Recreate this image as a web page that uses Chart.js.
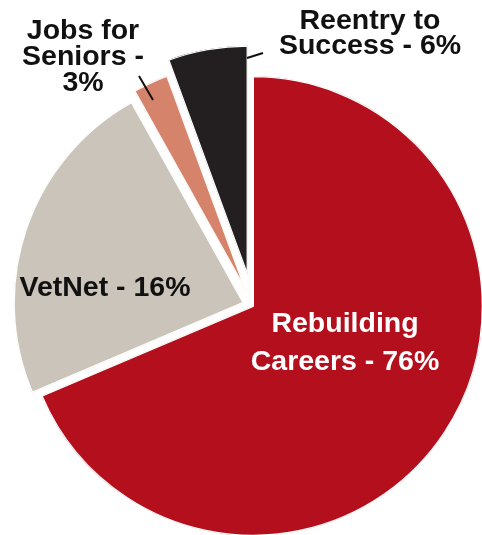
<!DOCTYPE html>
<html>
<head>
<meta charset="utf-8">
<script src="https://cdn.jsdelivr.net/npm/chart.js@4/dist/chart.umd.min.js"></script>
<style>
  html, body { margin: 0; padding: 0; background: #fff; }
  #wrap { width: 482px; height: 535px; position: relative; }
</style>
</head>
<body>
<div id="wrap"><canvas id="pie"></canvas></div>
<script>
// === DATA ===
// shares as drawn in the picture (percent of the full circle)
var programs = ['Rebuilding Careers', 'VetNet', 'Jobs for Seniors', 'Reentry to Success'];
var shares = [68.6, 23.3, 2.5, 5.6];
// text printed on each slice, line by line
var labelLines = [
  ['Rebuilding', 'Careers - 76%'],
  ['VetNet - 16%'],
  ['Jobs for', 'Seniors -', '3%'],
  ['Reentry to', 'Success - 6%']
];

// === STYLE ===
var sliceColors = ['#B40F1D', '#CAC4BA', '#D6836B', '#231F20'];
// how far each slice is pulled out of the pie (px, along its mid angle)
var explode = [0, 10, 16, 31];
var labelColors = ['#ffffff', '#111111', '#111111', '#111111'];
// label anchor relative to pie centre: dx, dy (first baseline), line height
var labelPlace = [
  { dx: 92, dy: 26, lh: 38 },
  { dx: -148, dy: -10, lh: 0 },
  { dx: -170, dy: -267, lh: 26 },
  { dx: 117, dy: -277, lh: 24.5 }
];
// leader lines relative to pie centre (null = none)
var leaders = [
  null,
  null,
  [-114, -230, -100, -206],
  [-6, -248, 10, -253]
];

// Draw the library's arcs ourselves so each one can be shifted by a plain pixel amount
var explodedArcs = {
  id: 'explodedArcs',
  beforeDatasetDraw: function(chart, args) {
    var ctx = chart.ctx;
    args.meta.data.forEach(function(arc, i) {
      var mid = (arc.startAngle + arc.endAngle) / 2;
      ctx.save();
      ctx.translate(Math.cos(mid) * explode[i], Math.sin(mid) * explode[i]);
      arc.draw(ctx);
      ctx.restore();
    });
    return false;
  }
};

var pieLabels = {
  id: 'pieLabels',
  afterDatasetsDraw: function(chart) {
    var ctx = chart.ctx;
    var arc0 = chart.getDatasetMeta(0).data[0];
    var cx = arc0.x, cy = arc0.y;
    ctx.save();
    ctx.font = 'bold 28.5px "Liberation Sans", Arial, sans-serif';
    ctx.textAlign = 'center';
    ctx.textBaseline = 'alphabetic';
    labelLines.forEach(function(lines, i) {
      var p = labelPlace[i];
      ctx.fillStyle = labelColors[i];
      lines.forEach(function(t, j) {
        ctx.fillText(t, cx + p.dx, cy + p.dy + j * p.lh);
      });
      var l = leaders[i];
      if (l) {
        ctx.strokeStyle = '#111';
        ctx.lineWidth = 2;
        ctx.beginPath();
        ctx.moveTo(cx + l[0], cy + l[1]);
        ctx.lineTo(cx + l[2], cy + l[3]);
        ctx.stroke();
      }
    });
    ctx.restore();
  }
};

var ctx = document.getElementById('pie').getContext('2d');
new Chart(ctx, {
  type: 'pie',
  data: {
    labels: programs,
    datasets: [{
      data: shares,
      backgroundColor: sliceColors,
      borderColor: '#ffffff',
      borderWidth: 1,
      borderAlign: 'inner',
      radius: 230,
      clip: false
    }]
  },
  options: {
    responsive: true, maintainAspectRatio: false,
    animation: false,
    events: [],
    layout: { padding: { left: 24, top: 77, right: 0, bottom: 0 } },
    plugins: { legend: { display: false }, tooltip: { enabled: false } }
  },
  plugins: [explodedArcs, pieLabels]
});
</script>
</body>
</html>
